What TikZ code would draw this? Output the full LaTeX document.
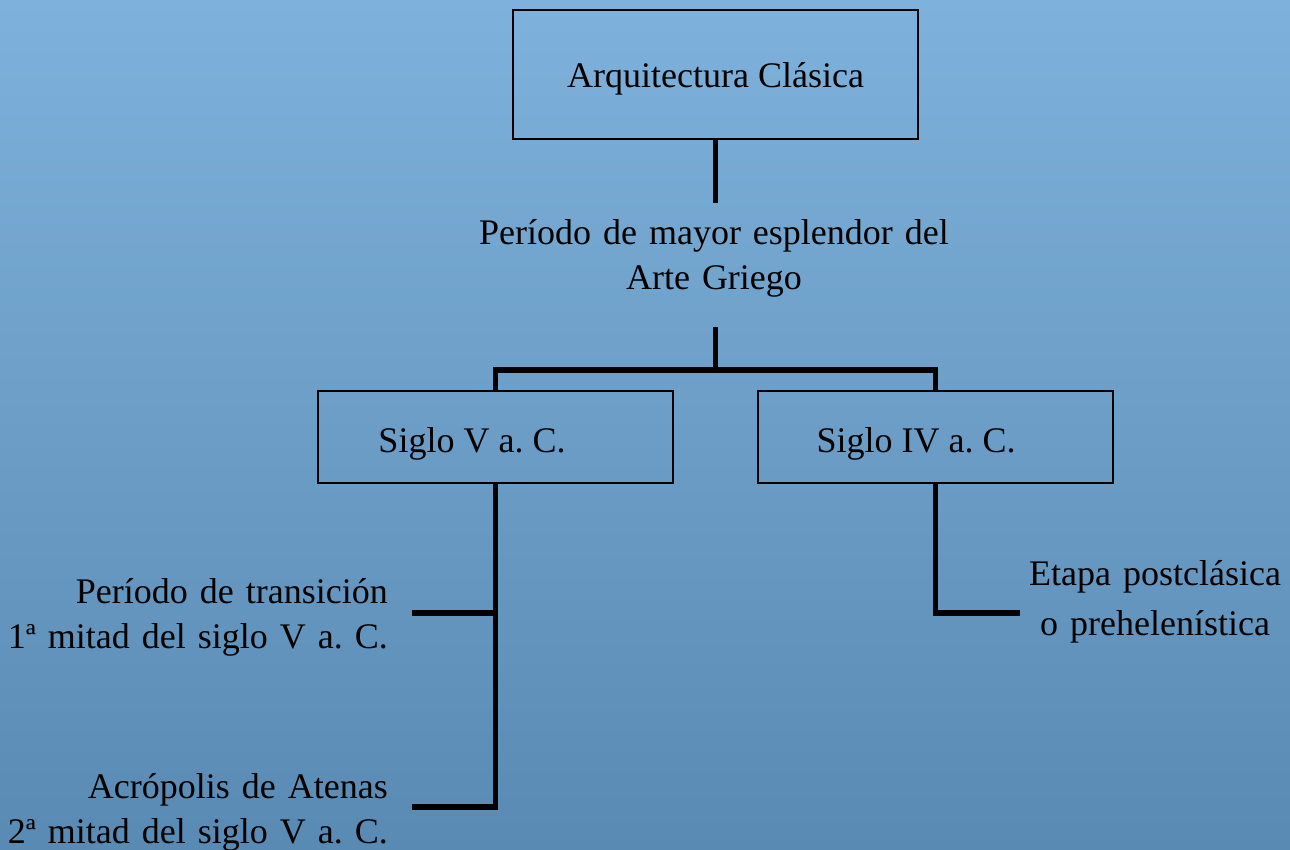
\documentclass[tikz,border=0pt]{standalone}
\usepackage{fontspec}
\setmainfont{Liberation Serif}
\definecolor{bgtop}{RGB}{126,177,219}
\definecolor{bgbot}{RGB}{89,138,179}
\frenchspacing
\begin{document}
\begin{tikzpicture}[x=1pt,y=-1pt,
  txt/.style={inner sep=0pt, font=\fontsize{36}{45}\selectfont},
  box/.style={txt, draw=black, line width=1.8pt},
  conn/.style={line width=5.5pt, line cap=butt, line join=miter}]
\shade[top color=bgtop, bottom color=bgbot] (0,0) rectangle (1290,850);
\useasboundingbox (0,0) rectangle (1290,850);
% boxes
\node[box, minimum width=405pt, minimum height=129pt, text height=30pt, text depth=3pt] (top) at (715.5,74.5) {Arquitectura Clásica};
\node[box, minimum width=355pt, minimum height=92pt, text height=32pt, text depth=2pt] (s5) at (495.5,437) {Siglo V a. C.\hspace*{47pt}};
\node[box, minimum width=355pt, minimum height=92pt, text height=32pt, text depth=2pt] (s4) at (935.5,437) {Siglo IV a. C.\hspace*{39pt}};
% texts
\node[txt, text width=600pt, align=center, anchor=base] (mid) at (714,245) {Período de mayor esplendor del\\Arte Griego};
\node[txt, text width=400pt, align=right, anchor=base east] (t1) at (388,603) {Período de transición\\1ª mitad del siglo V a. C.};
\node[txt, text width=400pt, align=right, anchor=base east] (t2) at (388,798) {Acrópolis de Atenas\\2ª mitad del siglo V a. C.};
\node[txt, text width=300pt, align=center, anchor=base, font=\fontsize{36}{50}\selectfont] (t3) at (1155,585) {Etapa postclásica\\o prehelenística};
% junction coordinates
\coordinate (a1) at (715.5,203);
\coordinate (a2) at (715.5,327);
\coordinate (j) at (715.5,370);
\coordinate (j5) at (495.5,613);
\coordinate (j6) at (495.5,807);
\coordinate (e1) at (412,613);
\coordinate (e2) at (412,807);
\coordinate (e3) at (1020,613);
% connectors
\draw[conn] (top.south) -- (a1);
\draw[conn] (a2) -- (j);
\draw[conn] (s5.north) |- (j) -| (s4.north);
\draw[conn] (s5.south) -- (j6) -- (e2);
\draw[conn] (j5) -- (e1);
\draw[conn] (s4.south) |- (e3);
\end{tikzpicture}
\end{document}
